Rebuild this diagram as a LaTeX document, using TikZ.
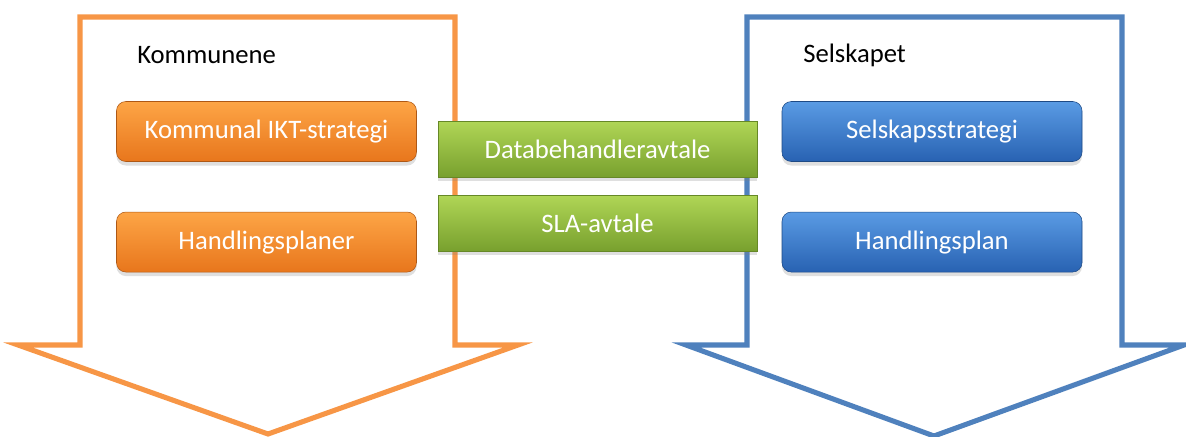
\documentclass[tikz,border=0pt]{standalone}
\usepackage{fontspec}
\setmainfont{Carlito}
\usetikzlibrary{positioning,shadows}
\definecolor{orangeline}{RGB}{247,150,70}
\definecolor{blueline}{RGB}{79,129,189}
\definecolor{orangetop}{RGB}{253,165,70}
\definecolor{orangebot}{RGB}{232,118,28}
\definecolor{bluetop}{RGB}{90,155,228}
\definecolor{bluebot}{RGB}{40,98,178}
\definecolor{greentop}{RGB}{176,214,86}
\definecolor{greenbot}{RGB}{120,160,46}

\tikzset{
    pillbox/.style={rounded corners=7pt, minimum width=225pt, minimum height=45pt,
        text=white, font=\fontsize{20}{24}\selectfont, inner sep=0pt,
        drop shadow={opacity=0.25, shadow xshift=0pt, shadow yshift=-3pt}},
    orangebox/.style={pillbox, top color=orangetop, bottom color=orangebot, draw=orangebot!75!black, line width=0.4pt},
    bluebox/.style={pillbox, top color=bluetop, bottom color=bluebot, draw=bluebot!75!black, line width=0.4pt},
    greenbox/.style={minimum width=239pt, minimum height=42pt, inner sep=0pt,
        text=white, font=\fontsize{20}{24}\selectfont,
        top color=greentop, bottom color=greenbot, draw=greenbot!85!black, line width=0.5pt,
        drop shadow={opacity=0.25, shadow xshift=0pt, shadow yshift=-3pt}},
    bigarrow/.style={line width=3.8pt, miter limit=10, fill=white},
    heading/.style={font=\fontsize{20}{24}\selectfont, anchor=west, inner sep=0pt}
}

\begin{document}
\begin{tikzpicture}[x=0.75pt, y=-0.75pt]
    \useasboundingbox (0,0) rectangle (1186,436);
    % Kommunene
    \draw[bigarrow, draw=orangeline] (80,17) -- (455,17) -- (455,345) -- (518,345)
        -- (268,434) -- (18,345) -- (80,345) -- cycle;
    % Selskapet
    \draw[bigarrow, draw=blueline] (747,17) -- (1122,17) -- (1122,345) -- (1184,345)
        -- (934,436) -- (686,345) -- (747,345) -- cycle;

    \node[heading] (kommunene) at (137,55) {Kommunene};
    \node[heading] (selskapet) at (803,55) {Selskapet};

    \node[orangebox] (ikt) at (266.5,131.5) {Kommunal IKT-strategi};
    \node[orangebox, below=37.5pt of ikt] (planer) {Handlingsplaner};

    \node[bluebox] (strategi) at (932,131.5) {Selskapsstrategi};
    \node[bluebox, below=37.5pt of strategi] (plan) {Handlingsplan};

    % avtaler
    \node[greenbox] (dba) at (597.5,149) {Databehandleravtale};
    \node[greenbox, below=13pt of dba] (sla) {SLA-avtale};
\end{tikzpicture}
\end{document}
